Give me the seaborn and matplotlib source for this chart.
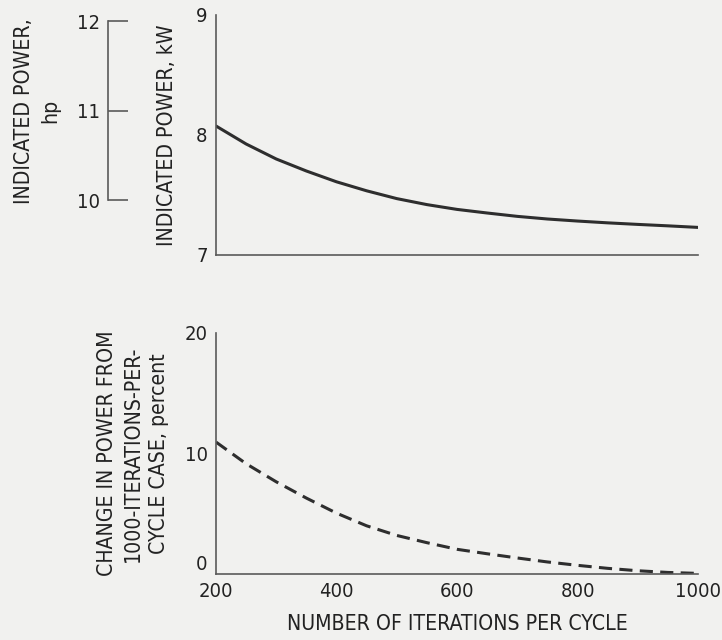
import matplotlib
matplotlib.use("Agg")
import matplotlib.pyplot as plt
import seaborn as sns
import pandas as pd
from matplotlib import font_manager

# ---- data ----
iterations = [200, 250, 300, 350, 400, 450, 500, 550, 600, 650, 700, 750, 800, 850, 900, 950, 1000]
power_kw = [8.075, 7.925, 7.80, 7.70, 7.61, 7.535, 7.47, 7.42, 7.38, 7.35, 7.322, 7.30, 7.283,
            7.268, 7.255, 7.243, 7.23]
change_pct = [10.95, 9.15, 7.65, 6.3, 5.05, 4.0, 3.2, 2.6, 2.05, 1.68, 1.33, 1.0, 0.72,
              0.47, 0.27, 0.13, 0.05]

x_ticks = [200, 400, 600, 800, 1000]
kw_ticks = [7, 8, 9]
hp_ticks = [10, 11, 12]
pct_ticks = [0, 10, 20]

KW_PER_HP = 0.7457

sns.set_theme(style="white")
condensed = any(f.name == "DejaVu Sans" and str(f.stretch) in ("condensed", "semi-condensed", "500")
                for f in font_manager.fontManager.ttflist)
plt.rcParams["font.family"] = ["DejaVu Sans"]
if condensed:
    plt.rcParams["font.stretch"] = "condensed"

BG = "#f1f1ef"
INK = "#2e2e2e"
AX = "#5a5a5a"
TXT = "#222222"
LBL = 15.2

fig = plt.figure(figsize=(7.22, 6.4), dpi=100, facecolor=BG)
ax1 = fig.add_axes([216 / 722, 1 - 255 / 640, 482 / 722, 240 / 640])
ax2 = fig.add_axes([216 / 722, 1 - 574 / 640, 482 / 722, 241 / 640])

df = pd.DataFrame({"it": iterations, "kw": power_kw, "pct": change_pct})

sns.lineplot(data=df, x="it", y="kw", ax=ax1, color=INK, linewidth=2.2)
sns.lineplot(data=df, x="it", y="pct", ax=ax2, color=INK, linewidth=2.2)
ax2.lines[0].set_dashes([4.3, 2.4])

for ax in (ax1, ax2):
    ax.set_facecolor(BG)
    ax.set_xlim(200, 1000)
    ax.set_xticks(x_ticks)
    for s in ("top", "right"):
        ax.spines[s].set_visible(False)
    for s in ("left", "bottom"):
        ax.spines[s].set_color(AX)
        ax.spines[s].set_linewidth(1.2)
    ax.tick_params(axis="both", direction="in", length=13.5, width=1.2,
                   color=AX, labelcolor=TXT, labelsize=14.5, pad=6)
    ax.set_xlabel("")
    ax.set_ylabel("")

ax1.set_ylim(7, 9)
ax1.set_yticks(kw_ticks)
ax1.tick_params(axis="x", labelbottom=False)
ax1.set_ylabel("INDICATED POWER, kW", fontsize=LBL, color=TXT, labelpad=14)

ax2.set_ylim(0, 20)
ax2.set_yticks(pct_ticks)
ax2.get_yaxis().get_major_ticks()[0].label1.set_verticalalignment("bottom")
ax2.set_ylabel("CHANGE IN POWER FROM\n1000-ITERATIONS-PER-\nCYCLE CASE, percent",
               fontsize=LBL, color=TXT, labelpad=11, linespacing=1.4)
ax2.set_xlabel("NUMBER OF ITERATIONS PER CYCLE", fontsize=LBL, color=TXT,
               labelpad=9)

# secondary hp axis
sec = ax1.secondary_yaxis((108 - 216) / 482,
                          functions=(lambda k: k / KW_PER_HP, lambda h: h * KW_PER_HP))
sec.set_yticks(hp_ticks)
sec.spines["left"].set_bounds(10, 12)
sec.spines["left"].set_color(AX)
sec.spines["left"].set_linewidth(1.2)
sec.tick_params(axis="y", direction="in", length=14.5, width=1.2, color=AX,
                labelcolor=TXT, labelsize=14.5, pad=6)
fig.text(37 / 722, 1 - 111 / 640, "INDICATED POWER,\nhp", rotation=90,
         ha="center", va="center", multialignment="center",
         fontsize=LBL, color=TXT, linespacing=1.4)

fig.savefig("out.png", dpi=100, facecolor=BG)
